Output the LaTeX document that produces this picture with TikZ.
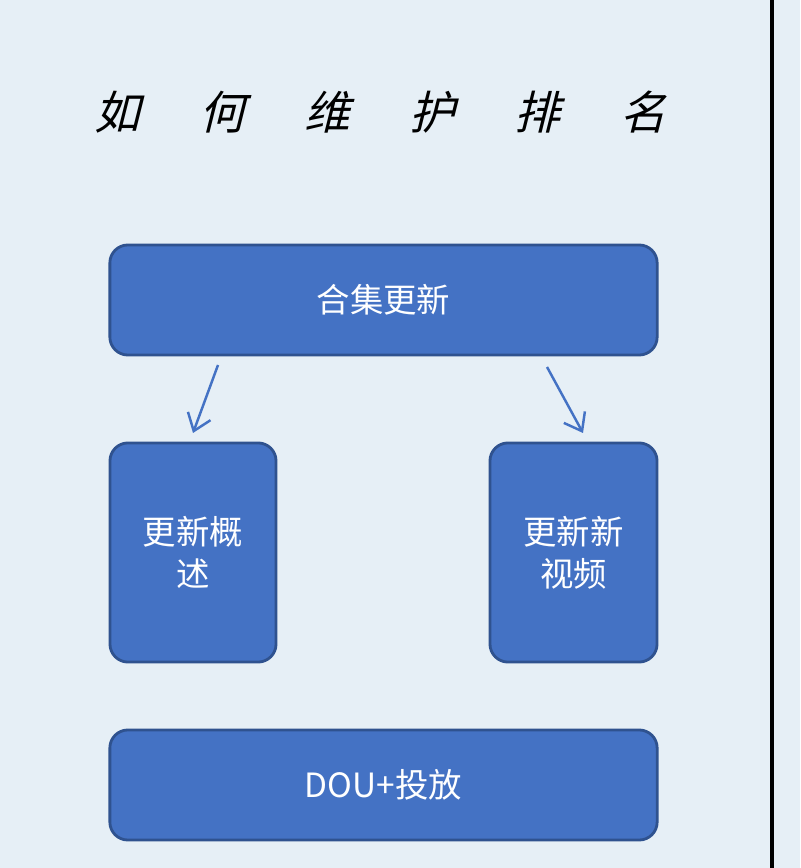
\documentclass[tikz,border=0pt]{standalone}
\usepackage{fontspec}
\newfontfamily\cjk{Noto Sans CJK SC}
\newfontfamily\cjktitle[FakeSlant=0.25]{Noto Sans CJK SC}
\usetikzlibrary{positioning,arrows.meta}
\definecolor{boxblue}{HTML}{4472C4}
\definecolor{boxline}{HTML}{2F528F}
\definecolor{paper}{HTML}{E6EFF6}
\tikzset{
  box/.style={draw=boxline, line width=0.8pt, fill=boxblue, rounded corners=0.18cm,
    text=white, font=\cjk\fontsize{9.5}{12}\selectfont, align=center, inner sep=0pt},
  link/.style={-{Straight Barb[length=1.6mm,width=2.4mm]}, draw=boxblue, line width=0.7pt}
}
\begin{document}
\begin{tikzpicture}[x=0.01cm, y=-0.01cm]
\fill[paper] (0,0) rectangle (800,868);
\useasboundingbox (0,0) rectangle (800,868);
\draw[line width=1.2pt] (772,0) -- (772,868);

\node[font=\cjktitle\fontsize{13}{15}\selectfont] (title) at (380,112)
  {如\hspace{1.3em}何\hspace{1.3em}维\hspace{1.3em}护\hspace{1.3em}排\hspace{1.3em}名};

\node[box, minimum width=5.47cm, minimum height=1.1cm] (merge) at (383.5,300) {合集更新};
\node[box, minimum width=1.66cm, minimum height=2.19cm] (summary) at (193,552.5) {更新概\\述};
\node[box, minimum width=1.67cm, minimum height=2.19cm] (video) at (573.5,552.5) {更新新\\视频};
\node[box, minimum width=5.47cm, minimum height=1.1cm] (dou) at (383.5,785) {DOU+投放};

\coordinate (a1) at (218,365);
\coordinate (a2) at (193,433);
\coordinate (b1) at (547,367);
\coordinate (b2) at (583,433);
\draw[link] (a1) -- (a2);
\draw[link] (b1) -- (b2);
\end{tikzpicture}
\end{document}
